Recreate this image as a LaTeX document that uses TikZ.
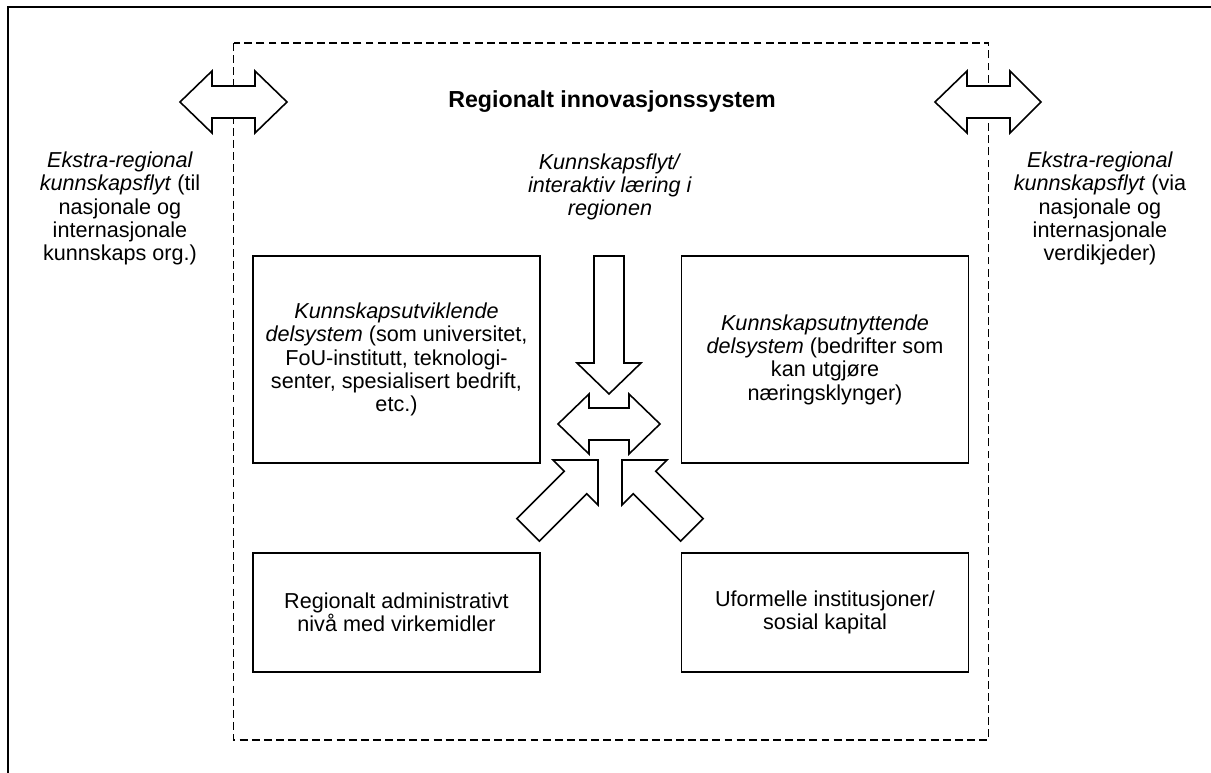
\documentclass[tikz,border=0pt]{standalone}
\usepackage{fontspec}
\setmainfont{Liberation Sans}
\usepackage{tikz}
\usetikzlibrary{positioning}

\begin{document}
\begin{tikzpicture}[
    x=0.02cm, y=-0.02cm,
    font=\fontsize{12.3}{13.3}\selectfont,
    sysbox/.style={
		rectangle,
		draw=black,
		line width=0.9pt,
		align=center,
		inner sep=2pt,
		minimum width=5.74cm
	},
	blockarrow/.style={
		draw=black,
		line width=0.9pt,
		fill=white,
		line join=miter
	},
	label/.style={
		align=center,
		inner sep=0pt
	}
  ]
  \useasboundingbox (0,0) rectangle (1211,773);

  % frame and the region
  \draw [line width=0.9pt] (8,773) -- (8,7) -- (1211,7);
  \draw [line width=0.8pt, dash pattern=on 4.5pt off 2.4pt] (233.5,43) rectangle (988.5,740);

  \node [label, font=\fontsize{13.2}{14}\selectfont\bfseries] (title) at (612,102) {Regionalt innovasjonssystem};

  \node [label] (flyt) at (610,187) {\textit{Kunnskapsflyt/}\\\textit{interaktiv læring i}\\\textit{regionen}};

  % the four subsystems
  \node [sysbox, minimum height=4.14cm] (utvikl) at (396.5,359.5)
 {\textit{Kunnskapsutviklende}\\\textit{delsystem} (som universitet,\\FoU-institutt, teknologi-\\senter, spesialisert bedrift,\\etc.)};

  \node [sysbox, minimum height=4.14cm] (utnytt) at (825,359.5)
 {\textit{Kunnskapsutnyttende}\\\textit{delsystem} (bedrifter som\\kan utgjøre\\næringsklynger)};

  \node [sysbox, minimum height=2.38cm] (admin) at (396.5,612.5)
 {Regionalt administrativt\\nivå med virkemidler};

  \node [sysbox, minimum height=2.38cm] (sosial) at (825,612.5)
 {Uformelle institusjoner/\\sosial kapital};

  % outside the region
  \node [label] (ekstraL) at (120,208.5)
 {\textit{Ekstra-regional}\\\textit{kunnskapsflyt} (til\\nasjonale og\\internasjonale\\kunnskaps org.)};
  \node [label] (ekstraR) at (1100,208.5)
 {\textit{Ekstra-regional}\\\textit{kunnskapsflyt} (via\\nasjonale og\\internasjonale\\verdikjeder)};

  % block arrows
  \draw [blockarrow] (180,102) -- (212,71) -- (212,86) -- (255,86) -- (255,71) -- (287,102)
    -- (255,133) -- (255,118) -- (212,118) -- (212,133) -- cycle;
  \draw [blockarrow] (935,102) -- (967,71) -- (967,86) -- (1010,86) -- (1010,71) -- (1041,102)
    -- (1010,133) -- (1010,118) -- (967,118) -- (967,133) -- cycle;

  \draw [blockarrow] (594,256) -- (624,256) -- (624,363) -- (641,363) -- (609,394)
    -- (577,363) -- (594,363) -- cycle;
  \draw [blockarrow] (558,424) -- (589,394) -- (589,408) -- (629,408) -- (629,394) -- (660,424)
    -- (629,454) -- (629,440) -- (589,440) -- (589,454) -- cycle;

  \draw [blockarrow] (516.8,518.6) -- (564.2,471.2) -- (553,460) -- (598,460) -- (598,505)
    -- (586.8,493.8) -- (539.4,541.2) -- cycle;
  \draw [blockarrow] (703.2,518.6) -- (655.8,471.2) -- (667,460) -- (622,460) -- (622,505)
    -- (633.2,493.8) -- (680.6,541.2) -- cycle;

\end{tikzpicture}
\end{document}
